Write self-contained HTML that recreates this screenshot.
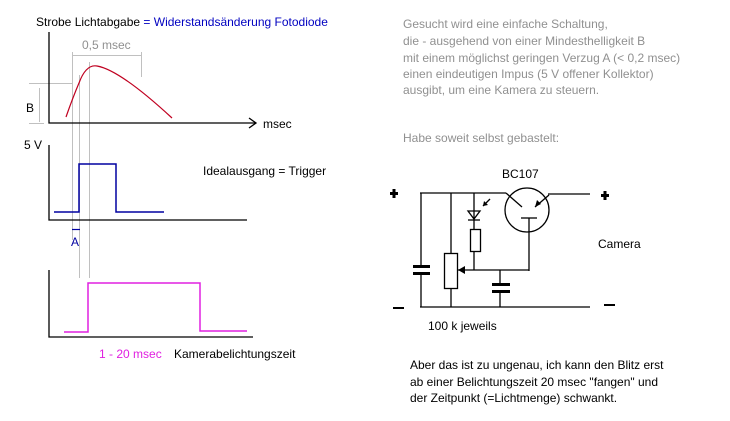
<!DOCTYPE html>
<html><head><meta charset="utf-8"><style>
html,body{margin:0;padding:0;background:#fff;}
svg{display:block;font-family:"Liberation Sans",sans-serif;font-size:12px;}
</style></head><body>
<svg width="730" height="421" viewBox="0 0 730 421" xmlns="http://www.w3.org/2000/svg">
<g stroke="#c0c0c0" stroke-width="1" fill="none">
<line x1="72.5" y1="52" x2="72.5" y2="240"/>
<line x1="79.5" y1="75" x2="79.5" y2="278"/>
<line x1="89.5" y1="62" x2="89.5" y2="278"/>
<line x1="73" y1="55.5" x2="141" y2="55.5"/>
<line x1="141.5" y1="52" x2="141.5" y2="77"/>
<line x1="29" y1="83.5" x2="73" y2="83.5"/>
<line x1="29" y1="123.5" x2="44" y2="123.5"/>
<line x1="39.5" y1="88" x2="39.5" y2="122"/>
</g>
<g stroke="#000" stroke-width="1.3" fill="none">
<polyline points="49,32 49,123 256,123"/>
<polyline points="249,118 256,123 249,128"/>
<polyline points="49,145 49,220 247,220"/>
<polyline points="49,270 49,337 253,337"/>
</g>
<path d="M66,117 Q73,97 79,83 Q86,64 97,66 Q120,70 172,118" stroke="#c00020" stroke-width="1.2" fill="none"/>
<polyline points="54,212 79,212 79,164 116,164 116,212 164,212" stroke="#0000a0" stroke-width="1.5" fill="none"/>
<line x1="72" y1="229.5" x2="80" y2="229.5" stroke="#0000a0" stroke-width="1.2"/>
<polyline points="64,332 88,332 88,283 200,283 200,331 247,331" stroke="#e020e0" stroke-width="1.5" fill="none"/>
<text x="36" y="26" fill="#000">Strobe Lichtabgabe <tspan fill="#0000c0">= Widerstandsänderung Fotodiode</tspan></text>
<text x="82" y="49" fill="#909090">0,5 msec</text>
<text x="26" y="112">B</text>
<text x="263" y="128">msec</text>
<text x="24" y="149">5 V</text>
<text x="203" y="175">Idealausgang = Trigger</text>
<text x="71" y="246" fill="#0000a0" font-size="12">A</text>
<text x="99" y="358" fill="#e020e0">1 - 20 msec</text>
<text x="174" y="358">Kamerabelichtungszeit</text>
<g fill="#909090">
<text x="403" y="28">Gesucht wird eine einfache Schaltung,</text>
<text x="403" y="45">die - ausgehend von einer Mindesthelligkeit B</text>
<text x="403" y="62">mit einem möglichst geringen Verzug A (&lt; 0,2 msec)</text>
<text x="403" y="78">einen eindeutigen Impus (5 V offener Kollektor)</text>
<text x="403" y="94">ausgibt, um eine Kamera zu steuern.</text>
<text x="403" y="142">Habe soweit selbst gebastelt:</text>
</g>
<g stroke="#000" stroke-width="1.3" fill="none">
<line x1="420" y1="193" x2="506" y2="193"/>
<line x1="506" y1="193" x2="522" y2="207"/>
<circle cx="527" cy="210" r="22"/>
<line x1="548" y1="194" x2="590" y2="194"/>
<line x1="549" y1="195" x2="535" y2="207"/>
<line x1="521" y1="218" x2="537" y2="218"/>
<line x1="529" y1="218" x2="529" y2="271"/>
<line x1="420" y1="307" x2="590" y2="307"/>
<line x1="421" y1="193" x2="421" y2="266"/>
<line x1="421" y1="274" x2="421" y2="307"/>
<line x1="451" y1="193" x2="451" y2="253"/>
<rect x="444.5" y="253.5" width="13" height="35"/>
<line x1="451" y1="288" x2="451" y2="307"/>
<line x1="474" y1="193" x2="474" y2="229"/>
<rect x="470.5" y="229.5" width="10" height="22"/>
<line x1="474" y1="251" x2="474" y2="270"/>
<line x1="458" y1="270" x2="529" y2="270"/>
<line x1="500" y1="270" x2="500" y2="283"/>
<line x1="500" y1="292" x2="500" y2="307"/>
<line x1="483" y1="206" x2="490" y2="199"/>
</g>
<g fill="#000">
<rect x="413" y="265" width="17" height="3"/>
<rect x="413" y="272" width="17" height="3"/>
<rect x="492" y="283" width="18" height="3"/>
<rect x="492" y="290" width="18" height="3"/>
<polygon points="535,207 537,200 541,204"/>
<polygon points="458,270 465,266 465,274"/>
<polygon points="483,206 484,201 488,205"/>
<rect x="390" y="192" width="8" height="3"/><rect x="392.5" y="189" width="3" height="9"/>
<rect x="601" y="194" width="8" height="3"/><rect x="603.5" y="191" width="3" height="9"/>
<rect x="393" y="307" width="11" height="2"/>
<rect x="604" y="304" width="11" height="2"/>
</g>
<polygon points="468,211 480,211 474,219" fill="none" stroke="#000" stroke-width="1.3"/>
<line x1="468" y1="220" x2="480" y2="220" stroke="#000" stroke-width="1.3"/>
<text x="502" y="178">BC107</text>
<text x="598" y="248">Camera</text>
<text x="428" y="330">100 k jeweils</text>
<text x="410" y="369">Aber das ist zu ungenau, ich kann den Blitz erst</text>
<text x="410" y="386">ab einer Belichtungszeit 20 msec "fangen" und</text>
<text x="410" y="402">der Zeitpunkt (=Lichtmenge) schwankt.</text>
</svg>
</body></html>
